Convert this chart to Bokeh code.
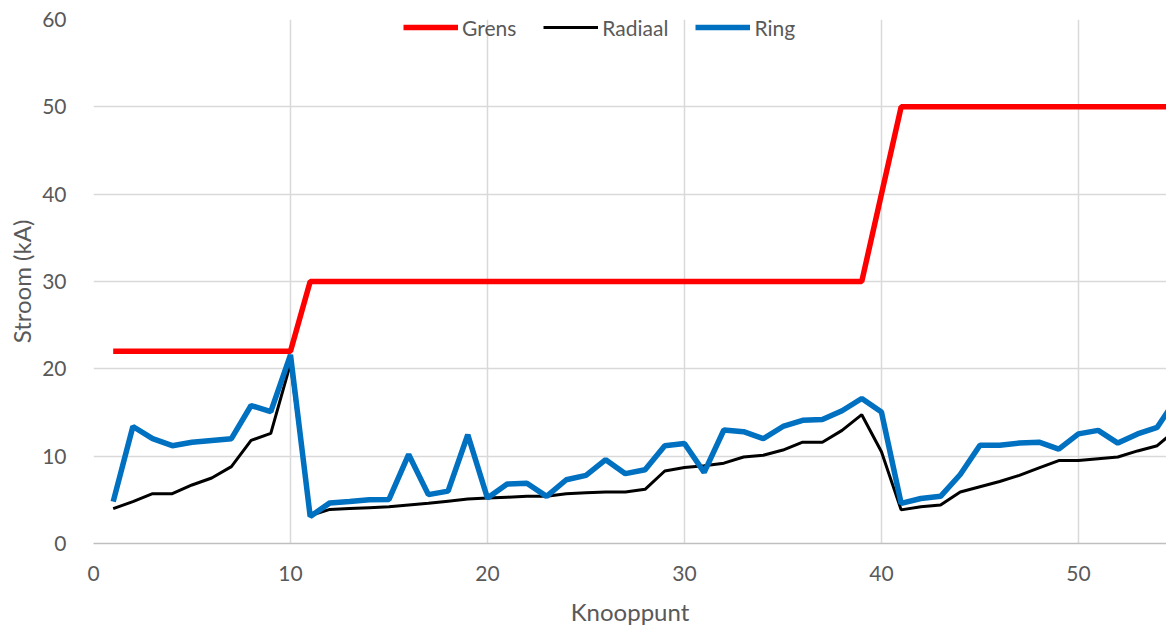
from bokeh.plotting import figure
from bokeh.models import Range1d, Legend, LegendItem, FixedTicker
from bokeh.embed import file_html
from bokeh.resources import INLINE

knooppunt = list(range(1, 56))
grens = [22]*10 + [30]*29 + [40] + [50]*15
radiaal = [4.0, 4.8, 5.7, 5.7, 6.7, 7.5, 8.8, 11.8, 12.6, 20.6,
           3.2, 3.9, 4.0, 4.1, 4.2, 4.4, 4.6, 4.85, 5.1, 5.2,
           5.3, 5.4, 5.4, 5.7, 5.8, 5.9, 5.9, 6.2, 8.3, 8.7,
           8.9, 9.2, 9.9, 10.1, 10.7, 11.6, 11.6, 12.95, 14.75, 10.5,
           3.85, 4.2, 4.4, 5.9, 6.5, 7.1, 7.8, 8.65, 9.5, 9.5,
           9.7, 9.9, 10.6, 11.2, 13.1]
ring = [4.8, 13.4, 12.0, 11.2, 11.6, 11.8, 12.0, 15.8, 15.1, 21.6,
        3.1, 4.65, 4.8, 5.0, 5.05, 10.2, 5.6, 6.0, 12.45, 5.2,
        6.8, 6.9, 5.4, 7.3, 7.8, 9.6, 8.0, 8.45, 11.2, 11.45,
        8.15, 13.0, 12.8, 12.0, 13.4, 14.1, 14.2, 15.2, 16.6, 15.05,
        4.6, 5.15, 5.4, 7.9, 11.25, 11.25, 11.5, 11.6, 10.8, 12.55,
        12.95, 11.5, 12.55, 13.3, 16.7]

FONT = "Lato"
TXT = "#595959"
GRID = "#D9D9D9"

p = figure(width=1166, height=628, output_backend="svg", toolbar_location=None,
           x_range=Range1d(0, 54.47), y_range=Range1d(0, 60),
           min_border_left=93, min_border_right=0, min_border_top=19,
           min_border_bottom=84)
p.outline_line_color = None

r_grens = p.line(knooppunt, grens, line_color="#FF0000", line_width=5.5)
r_rad = p.line(knooppunt, radiaal, line_color="#000000", line_width=3)
r_ring = p.line(knooppunt, ring, line_color="#0070C0", line_width=5.5)

p.xaxis.ticker = FixedTicker(ticks=[0, 10, 20, 30, 40, 50])
p.yaxis.ticker = FixedTicker(ticks=[0, 10, 20, 30, 40, 50, 60])
p.xgrid.ticker = FixedTicker(ticks=[0, 10, 20, 30, 40, 50])
p.ygrid.ticker = FixedTicker(ticks=[0, 10, 20, 30, 40, 50, 60])
p.xgrid.grid_line_color = GRID
p.ygrid.grid_line_color = GRID
p.xgrid.grid_line_width = 1.5
p.ygrid.grid_line_width = 1.5

for ax in (p.xaxis, p.yaxis):
    ax.major_tick_line_color = None
    ax.minor_tick_line_color = None
    ax.major_label_text_font = FONT
    ax.major_label_text_font_size = "21px"
    ax.major_label_text_color = TXT
    ax.axis_label_text_font = FONT
    ax.axis_label_text_font_size = "24px"
    ax.axis_label_text_color = TXT
    ax.axis_label_text_font_style = "normal"
p.xaxis.axis_line_color = "#BFBFBF"
p.xaxis.axis_line_width = 1.5
p.yaxis.axis_line_color = None
p.xaxis.axis_label = "Knooppunt"
p.yaxis.axis_label = "Stroom (kA)"
p.xaxis.major_label_standoff = 16
p.yaxis.major_label_standoff = 21
p.xaxis.axis_label_standoff = 13
p.yaxis.axis_label_standoff = 3

legend = Legend(items=[LegendItem(label="Grens", renderers=[r_grens]),
                       LegendItem(label="Radiaal", renderers=[r_rad]),
                       LegendItem(label="Ring", renderers=[r_ring])],
                orientation="horizontal", location=(310, 503),
                glyph_width=55, glyph_height=26, label_height=26,
                label_standoff=4, spacing=27, padding=0, margin=0,
                background_fill_alpha=0, border_line_color=None,
                label_text_font=FONT, label_text_font_size="21px",
                label_text_color=TXT)
p.add_layout(legend)

open("out.html", "w").write(file_html(p, INLINE))
